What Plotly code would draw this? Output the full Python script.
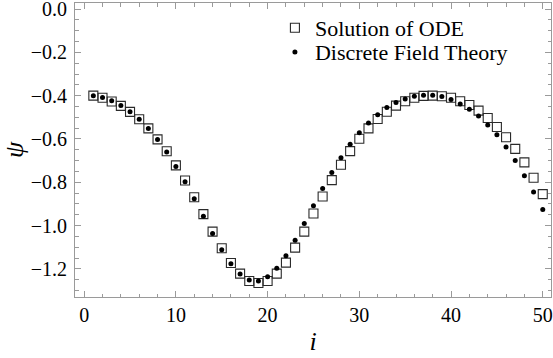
import plotly.graph_objects as go

# Data
i_vals = list(range(1, 51))

ode_vals = [
    -0.400, -0.410, -0.427, -0.447, -0.475, -0.509, -0.551, -0.602, -0.657, -0.722,
    -0.792, -0.869, -0.947, -1.028, -1.105, -1.173, -1.222, -1.256, -1.265, -1.256,
    -1.222, -1.171, -1.102, -1.028, -0.944, -0.866, -0.790, -0.719, -0.656, -0.599,
    -0.551, -0.508, -0.474, -0.446, -0.426, -0.410, -0.401, -0.400, -0.403, -0.410,
    -0.426, -0.443, -0.469, -0.503, -0.545, -0.592, -0.646, -0.708, -0.779, -0.855,
]

dft_vals = [
    -0.400, -0.409, -0.424, -0.446, -0.474, -0.509, -0.552, -0.603, -0.660, -0.727,
    -0.798, -0.876, -0.957, -1.037, -1.112, -1.176, -1.224, -1.251, -1.256, -1.236,
    -1.197, -1.139, -1.068, -0.990, -0.909, -0.829, -0.755, -0.687, -0.625, -0.571,
    -0.526, -0.488, -0.455, -0.432, -0.415, -0.403, -0.398, -0.398, -0.404, -0.418,
    -0.438, -0.463, -0.494, -0.535, -0.580, -0.637, -0.700, -0.770, -0.845, -0.926,
]

series_names = ["Solution of ODE", "Discrete Field Theory"]
x_title = "i"
y_title = "ψ"

FONT = "Liberation Serif, 'DejaVu Serif', serif"
FRAME = "#9a9a9a"

fig = go.Figure()
fig.add_trace(go.Scatter(
    x=i_vals, y=ode_vals, mode="markers", name=series_names[0],
    marker=dict(symbol="square-open", size=9, color="#2a2a2a",
                line=dict(width=1.1, color="#2a2a2a")),
    legend="legend",
))
fig.add_trace(go.Scatter(
    x=i_vals, y=dft_vals, mode="markers", name=series_names[1],
    marker=dict(symbol="circle", size=5, color="black", line=dict(width=0)),
    legend="legend2",
))

axis_common = dict(
    showline=True, linecolor=FRAME, linewidth=1, mirror="ticks",
    ticks="inside", tickcolor=FRAME, ticklen=6, tickwidth=1,
    showgrid=False, zeroline=False,
    tickfont=dict(family=FONT, size=20, color="black"),
    ticklabeloverflow="allow",
)

fig.update_xaxes(
    range=[-1.0, 50.9], tick0=0, dtick=10,
    minor=dict(ticks="inside", ticklen=3.5, tickcolor=FRAME, dtick=2, tick0=0, showgrid=False),
    title=dict(text=f"<i>{x_title}</i>", font=dict(family=FONT, size=26, color="black"), standoff=6),
    **axis_common,
)
fig.update_yaxes(
    range=[-1.330, 0.028], tick0=0, dtick=0.2, tickformat=".1f",
    minor=dict(ticks="inside", ticklen=3.5, tickcolor=FRAME, dtick=0.05, tick0=0, showgrid=False),
    title=dict(text=f"<i>{y_title}</i>", font=dict(family=FONT, size=26, color="black"), standoff=13),
    ticklabelstandoff=3,
    **axis_common,
)

legend_common = dict(
    xanchor="left", yanchor="middle",
    bgcolor="rgba(0,0,0,0)", borderwidth=0,
    font=dict(family=FONT, size=22, color="black"),
)

fig.update_layout(
    width=553, height=358,
    margin=dict(l=75, r=2, t=3, b=61, autoexpand=False),
    paper_bgcolor="white", plot_bgcolor="white",
    font=dict(family=FONT, color="black"),
    showlegend=True,
    legend=dict(x=0.42, y=0.915, **legend_common),
    legend2=dict(x=0.42, y=0.833, **legend_common),
)

fig.write_html(
    "out.html",
    config={"displayModeBar": False},
    post_script="document.body.style.margin='0px';document.body.style.overflow='hidden';",
)
